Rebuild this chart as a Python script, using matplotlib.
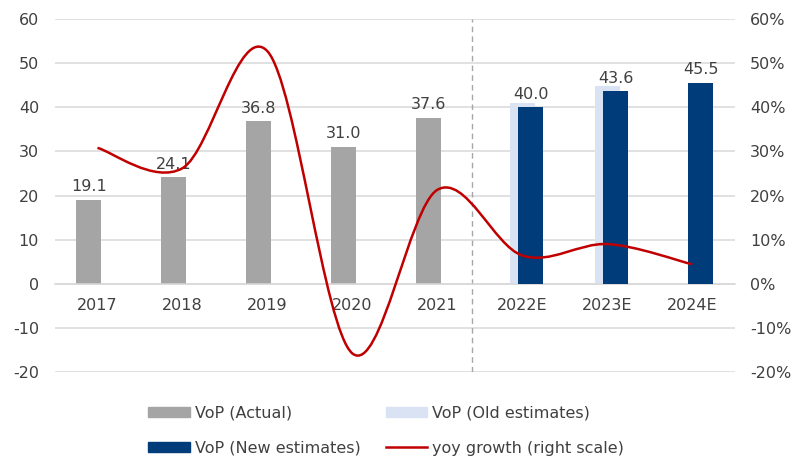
import numpy as np
import matplotlib
matplotlib.use("Agg")
import matplotlib.pyplot as plt
from matplotlib.path import Path
from matplotlib.patches import PathPatch, Patch
from matplotlib.lines import Line2D
from matplotlib.ticker import FuncFormatter

plt.rcParams['axes.unicode_minus'] = False

# ---------------------------------------------------------
# Data
# ---------------------------------------------------------
years = ['2017', '2018', '2019', '2020', '2021', '2022E', '2023E', '2024E']
vop_actual = [19.1, 24.1, 36.8, 31.0, 37.6]          # 2017-2021
vop_old = [41.0, 44.9]                               # 2022E-2023E
vop_new = [40.0, 43.6, 45.5]                         # 2022E-2024E
yoy_growth = [30.8, 26.2, 52.7, -15.8, 21.3, 6.4, 9.0, 4.4]  # %

text_col = '#404040'
grid_col = '#d9d9d9'
c_actual = '#a5a5a5'
c_old = '#dae3f3'
c_new = '#003b7a'
c_line = '#c00000'
fs = 11.5


def smooth_path(xs, ys):
    # Excel-style smoothed line: cubic Bezier through the points
    pts = np.column_stack([xs, ys]).astype(float)
    n = len(pts)
    verts = [pts[0]]
    codes = [Path.MOVETO]
    for i in range(n - 1):
        p0 = pts[i - 1] if i > 0 else pts[i]
        p1 = pts[i]
        p2 = pts[i + 1]
        p3 = pts[i + 2] if i + 2 < n else pts[i + 1]
        c1 = p1 + (p2 - p0) / 6.0
        c2 = p2 - (p3 - p1) / 6.0
        verts += [c1, c2, p2]
        codes += [Path.CURVE4] * 3
    return Path(verts, codes)


fig = plt.figure(figsize=(7.97, 4.59), dpi=100)
ax = fig.add_axes([0.069, 0.1895, 0.853, 0.769])

x = np.arange(len(years))
w = 0.294
off = 0.1

x_act = x[:5]
x_old = x[5:7]
x_new = x[5:8]

ax.bar(x_act - off, vop_actual, width=w, color=c_actual, zorder=2)
ax.bar(x_old, vop_old, width=w, color=c_old, zorder=2)
ax.bar(x_new + off, vop_new, width=w, color=c_new, zorder=3)

for xi, v in zip(x_act - off, vop_actual):
    ax.text(xi, v + 1.3, f'{v:.1f}', ha='center', va='bottom', fontsize=fs, color=text_col, zorder=5)
for xi, v in zip(x_new + off, vop_new):
    ax.text(xi, v + 1.3, f'{v:.1f}', ha='center', va='bottom', fontsize=fs, color=text_col, zorder=5)

ax.set_xlim(-0.5, len(years) - 0.5)
ax.set_ylim(-20, 60)
ax.set_yticks(range(-20, 61, 10))
ax.grid(axis='y', color=grid_col, linewidth=1.1, zorder=0)
ax.set_axisbelow(True)

for s in ['top', 'right', 'left']:
    ax.spines[s].set_visible(False)
ax.spines['bottom'].set_position(('data', 0))
ax.spines['bottom'].set_color(grid_col)
ax.spines['bottom'].set_linewidth(1.1)
ax.set_xticks(x)
ax.set_xticklabels(years)
ax.tick_params(axis='x', length=0, pad=10, labelsize=fs, labelcolor=text_col)
ax.tick_params(axis='y', length=0, pad=11.5, labelsize=fs, labelcolor=text_col)

# separator between actuals and estimates
ax.axvline(4.41, color='#a6a6a6', linestyle=(0, (4, 3)), linewidth=1, zorder=1)

# growth line on right scale
ax2 = ax.twinx()
ax2.set_ylim(-20, 60)
ax2.set_yticks(range(-20, 61, 10))
ax2.yaxis.set_major_formatter(FuncFormatter(lambda v, p: f'{v:.0f}%'))
ax2.tick_params(axis='y', length=0, pad=11, labelsize=fs, labelcolor=text_col)
for s in ax2.spines.values():
    s.set_visible(False)
ax2.add_patch(PathPatch(smooth_path(x, yoy_growth), facecolor='none',
                        edgecolor=c_line, linewidth=1.8, zorder=4))

# legend is filled column by column, so order handles for row-wise reading
handles = [
    Patch(color=c_actual, label='VoP (Actual)'),
    Patch(color=c_new, label='VoP (New estimates)'),
    Patch(color=c_old, label='VoP (Old estimates)'),
    Line2D([0], [0], color=c_line, linewidth=1.8, label='yoy growth (right scale)'),
]
leg = fig.legend(handles=handles, ncol=2, loc='lower left',
                 bbox_to_anchor=(0.168, -0.024), frameon=False, fontsize=fs,
                 handlelength=2.6, handleheight=0.65, handletextpad=0.3,
                 columnspacing=1.6, labelspacing=1.25)
for t in leg.get_texts():
    t.set_color(text_col)

fig.savefig('out.png', dpi=100)
